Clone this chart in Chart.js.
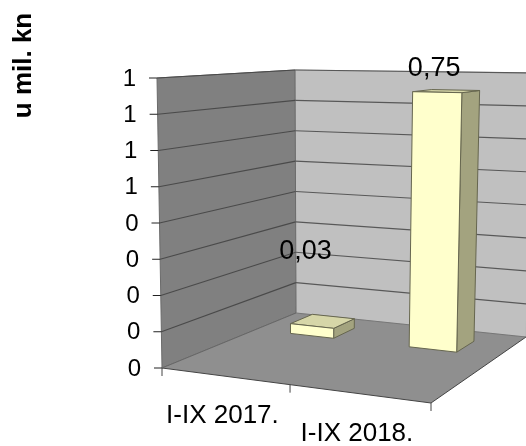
<!DOCTYPE html>
<html>
<head>
<meta charset="utf-8">
<style>html,body{margin:0;padding:0;background:#fff}#wrap{width:526px;height:446px}</style>
<script src="https://cdn.jsdelivr.net/npm/chart.js@4/dist/chart.umd.min.js"></script>
</head>
<body>
<div id="wrap"><canvas id="c" width="526" height="446"></canvas></div>
<script>
const categories = ['I-IX 2017.', 'I-IX 2018.'];
const seriesValues = [0.03, 0.75];
const valueLabels = ['0,03', '0,75'];
const yTickLabels = ['0', '0', '0', '0', '0', '1', '1', '1', '1'];
const yAxisTitle = 'u mil. kn';

// Perspective frame of the 3D box (layout only)
const FONT = '"Liberation Sans", Arial, sans-serif';
const box = {
  A: [162, 368], B: [431, 403], C: [296, 313], D: [526, 337],
  At: [157, 78], Bt: [436, 83], Ct: [295, 70], Dt: [534, 73]
};
const depthFront = 0.70, depthBack = 0.87;
const lerp = (a, b, t) => a + (b - a) * t;
function project(u0, d, h) {
  const u = u0 - 0.096 * u0 * (1 - u0); // perspective foreshortening along the front edge
  const f = k => lerp(lerp(box.A[k], box.B[k], u), lerp(box.C[k], box.D[k], u), d);
  const t = k => lerp(lerp(box.At[k], box.Bt[k], u), lerp(box.Ct[k], box.Dt[k], u), d);
  return [lerp(f(0), t(0), h), lerp(f(1), t(1), h)];
}
function poly(ctx, pts, fill, stroke, lw) {
  ctx.beginPath();
  pts.forEach((p, i) => i ? ctx.lineTo(p[0], p[1]) : ctx.moveTo(p[0], p[1]));
  ctx.closePath();
  if (fill) { ctx.fillStyle = fill; ctx.fill(); }
  if (stroke) { ctx.strokeStyle = stroke; ctx.lineWidth = lw || 1; ctx.stroke(); }
}
function line(ctx, a, b, color, lw) {
  ctx.beginPath(); ctx.moveTo(a[0], a[1]); ctx.lineTo(b[0], b[1]);
  ctx.strokeStyle = color; ctx.lineWidth = lw || 1; ctx.stroke();
}

const box3d = {
  id: 'box3d',
  beforeDatasetsDraw(chart) {
    const ctx = chart.ctx, y = chart.scales.y, x = chart.scales.x;
    const area = chart.chartArea;
    ctx.save();
    // walls and floor
    poly(ctx, [project(0,1,0), project(1,1,0), project(1,1,1), project(0,1,1)], '#c0c0c0', '#b4b4b4');
    poly(ctx, [project(0,0,0), project(0,1,0), project(0,1,1), project(0,0,1)], '#808080', '#6a6a6a');
    poly(ctx, [project(0,0,0), project(1,0,0), project(1,1,0), project(0,1,0)], '#8f8f8f', null);
    // gridlines and left ticks from the value scale
    y.ticks.forEach((tk, i) => {
      const h = (area.bottom - y.getPixelForValue(tk.value)) / (area.bottom - area.top);
      const fl = project(0,0,h), bl = project(0,1,h), br = project(1,1,h);
      if (i > 0) {
        line(ctx, fl, bl, '#4a4a4a', 1.2);
        line(ctx, bl, br, '#585858', 1.2);
      }
      line(ctx, [fl[0] - 8, fl[1]], fl, '#222', 1);
      ctx.font = '24px ' + FONT;
      ctx.fillStyle = '#000';
      ctx.textAlign = 'right';
      ctx.textBaseline = 'middle';
      ctx.fillText(yTickLabels[i], fl[0] - 21, fl[1] + 1);
    });
    // floor edges and bottom ticks from the category scale
    line(ctx, project(0,0,0), project(1,0,0), '#444', 1);
    line(ctx, project(1,0,0), project(1,1,0), '#444', 1);
    line(ctx, project(0,0,0), project(0,1,0), '#666', 1);
    line(ctx, project(0,1,0), project(1,1,0), '#777', 1);
    [0, 0.5, 1].forEach(u => {
      const p = project(u, 0, 0);
      line(ctx, p, [p[0], p[1] + 8], '#444', 1);
    });
    ctx.font = '26px ' + FONT;
    ctx.fillStyle = '#000';
    ctx.textAlign = 'center';
    ctx.textBaseline = 'alphabetic';
    categories.forEach((c, i) => {
      const u = (x.getPixelForValue(i) - area.left) / (area.right - area.left);
      const p = project(u, 0, 0);
      ctx.fillText(c, p[0] - 2, p[1] + 47);
    });
    // rotated axis title
    ctx.save();
    ctx.translate(31, 65.5);
    ctx.rotate(-Math.PI / 2);
    ctx.font = 'bold 26px ' + FONT;
    ctx.textAlign = 'center';
    ctx.fillText(yAxisTitle, 0, 0);
    ctx.restore();
    ctx.restore();
  },
  afterDatasetsDraw(chart) {
    const ctx = chart.ctx, area = chart.chartArea;
    const meta = chart.getDatasetMeta(0);
    const W = area.right - area.left, H = area.bottom - area.top;
    const labelShiftX = [-17, -12], labelLift = [55, 14];
    ctx.save();
    ctx.lineJoin = 'round';
    meta.data.forEach((bar, i) => {
      const u0 = (bar.x - bar.width / 2 - area.left) / W;
      const u1 = (bar.x + bar.width / 2 - area.left) / W;
      const h = (bar.base - bar.y) / H;
      const fl0 = project(u0, depthFront, 0), fr0 = project(u1, depthFront, 0), br0 = project(u1, depthBack, 0);
      const flt = project(u0, depthFront, h), frt = project(u1, depthFront, h);
      const brt = project(u1, depthBack, h), blt = project(u0, depthBack, h);
      const edge = '#66664f';
      poly(ctx, [fr0, br0, brt, frt], '#a3a37f', edge);
      poly(ctx, [flt, frt, brt, blt], '#d6d6a8', edge);
      poly(ctx, [fl0, fr0, frt, flt], '#ffffcc', edge);
      ctx.font = '27px ' + FONT;
      ctx.fillStyle = '#000';
      ctx.textAlign = 'center';
      ctx.textBaseline = 'alphabetic';
      ctx.fillText(valueLabels[i], (flt[0] + brt[0]) / 2 + labelShiftX[i], blt[1] - labelLift[i]);
    });
    ctx.restore();
  }
};

new Chart(document.getElementById('c'), {
  type: 'bar',
  data: {
    labels: categories,
    datasets: [{ data: seriesValues, backgroundColor: 'rgba(0,0,0,0)', borderWidth: 0,
                 barPercentage: 0.375, categoryPercentage: 1 }]
  },
  options: {
    responsive: false,
    animation: false,
    layout: { padding: { left: 162, right: 95, top: 78, bottom: 78 } },
    plugins: { legend: { display: false }, tooltip: { enabled: false }, title: { display: false } },
    scales: {
      x: { ticks: { display: false }, grid: { display: false }, border: { display: false },
           afterFit(s) { s.height = 0; } },
      y: { min: 0, max: 0.8, ticks: { display: false, stepSize: 0.1 }, grid: { display: false },
           border: { display: false }, afterFit(s) { s.width = 0; } }
    }
  },
  plugins: [box3d]
});
</script>
</body>
</html>
